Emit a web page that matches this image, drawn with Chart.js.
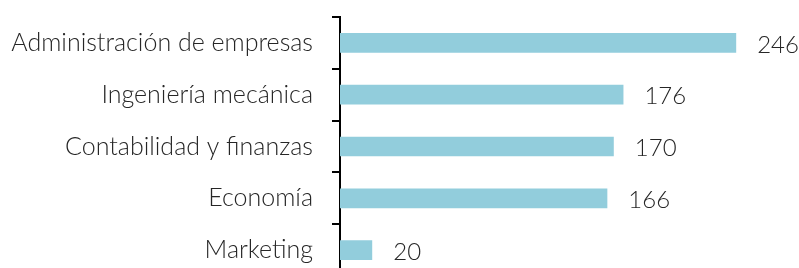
<!DOCTYPE html>
<html>
<head>
<meta charset="utf-8">
<script src="https://cdn.jsdelivr.net/npm/chart.js@4/dist/chart.umd.min.js"></script>
<style>
html,body{margin:0;padding:0;background:#fff;overflow:hidden;}
#wrap{position:relative;width:799px;height:280px;}
</style>
</head>
<body>
<div id="wrap"><canvas id="c" width="799" height="280" style="width:799px;height:280px"></canvas></div>
<script>
const categories = ["Administración de empresas","Ingeniería mecánica","Contabilidad y finanzas","Economía","Marketing"];
const values = [246,176,170,166,20];

const FONT = "Lato, 'Open Sans', sans-serif";
const FSIZE = 25;

const valueLabels = {
  id: 'valueLabels',
  afterDatasetsDraw(chart) {
    const ctx = chart.ctx;
    const meta = chart.getDatasetMeta(0);
    ctx.save();
    ctx.font = "300 24px " + FONT;
    ctx.fillStyle = "#262626";
    ctx.textAlign = "left";
    ctx.textBaseline = "middle";
    meta.data.forEach((bar, i) => {
      ctx.fillText(String(values[i]), bar.x + 21, bar.y + 2);
    });
    ctx.restore();
  }
};

new Chart(document.getElementById('c'), {
  type: 'bar',
  data: {
    labels: categories,
    datasets: [{
      data: values,
      backgroundColor: '#92CDDC',
      borderWidth: 0,
      barPercentage: 0.38,
      categoryPercentage: 1
    }]
  },
  options: {
    indexAxis: 'y',
    responsive: false,
    animation: false,
    devicePixelRatio: 1,
    layout: { padding: { top: 17, bottom: 4, left: 0, right: 0 } },
    plugins: { legend: { display: false }, tooltip: { enabled: false } },
    scales: {
      x: { display: false, min: 0, max: 285 },
      y: {
        afterFit(scale) { scale.width = 340; scale.paddingTop = 0; scale.paddingBottom = 0; },
        border: { display: true, color: '#000', width: 2 },
        grid: { display: true, drawOnChartArea: false, drawTicks: true, tickLength: 8, color: '#000', lineWidth: 2, offset: true },
        ticks: { color: '#262626', font: { family: FONT, size: FSIZE, weight: '300' }, padding: 19 }
      }
    }
  },
  plugins: [valueLabels]
});
</script>
</body>
</html>
